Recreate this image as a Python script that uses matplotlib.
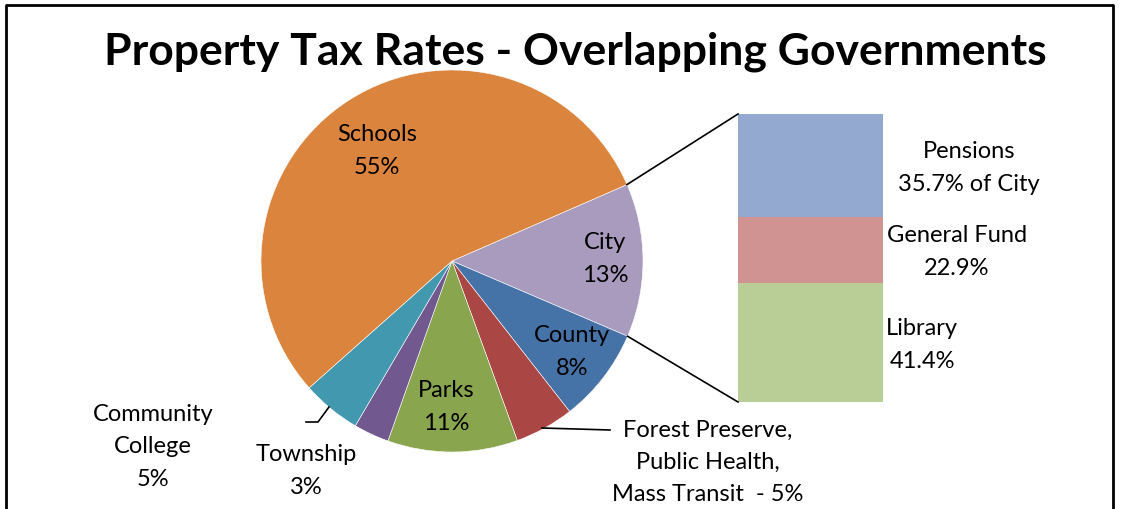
import numpy as np
import matplotlib
matplotlib.use("Agg")
import matplotlib.pyplot as plt

# pie data, clockwise starting at City
pie_labels = ["City", "County", "Forest Preserve,\nPublic Health,\nMass Transit  - 5%",
              "Parks", "Township", "Community\nCollege", "Schools"]
pie_values = [13, 8, 5, 11, 3, 5, 55]
pie_colors = ["#A99BBD", "#4572A7", "#AA4643", "#89A54E", "#71588F", "#4198AF", "#DB843D"]

# bar of pie (breakdown of City), bottom to top
bar_labels = ["Library\n41.4%", "General Fund\n22.9%", "Pensions\n35.7% of City"]
bar_values = [41.4, 22.9, 35.7]
bar_colors = ["#B9CD96", "#D09392", "#93A9CF"]

plt.rcParams['font.family'] = ['Lato', 'DejaVu Sans']

W, H = 1124, 510
fig = plt.figure(figsize=(W / 100, H / 100), dpi=100)
ax = fig.add_axes([0, 0, 1, 1])

# chart frame (bottom edge cut off)
ax.plot([6, 6, 1113, 1113], [-5, 504, 504, -5], color='black', lw=2, clip_on=False)

ax.text(575, 458, "Property Tax Rates - Overlapping Governments", ha='center', va='center',
        fontsize=32, fontweight='bold')

cx, cy, r = 452, 248, 191
start = 23.6
wedges, _ = ax.pie(pie_values, colors=pie_colors, startangle=start, counterclock=False,
                   center=(cx, cy), radius=r, frame=True,
                   wedgeprops=dict(edgecolor='white', linewidth=0.4))
ax.set_xlim(0, W)
ax.set_ylim(0, H)
ax.set_aspect('equal')
ax.axis('off')

fs = 17
ls = 1.65
# inside labels
ax.text(377, 510 - 151, "Schools\n55%", ha='center', va='center', fontsize=fs, linespacing=ls)
ax.text(605, 510 - 259, "City\n13%", ha='center', va='center', fontsize=fs, linespacing=ls)
ax.text(572, 510 - 352, "County\n8%", ha='center', va='center', fontsize=fs, linespacing=ls)
ax.text(446, 510 - 407, "Parks\n11%", ha='center', va='center', fontsize=fs, linespacing=ls)

# outside labels
ax.text(708, 510 - 462, pie_labels[2], ha='center', va='center', fontsize=fs, linespacing=ls)
ax.plot([542, 610], [510 - 429, 510 - 431], color='black', lw=1.2)
ax.text(306, 510 - 471, "Township\n3%", ha='center', va='center', fontsize=fs, linespacing=ls)
ax.plot([306, 318, 329], [510 - 423, 510 - 423, 510 - 408], color='black', lw=1.2)
ax.text(153, 510 - 447, "Community\nCollege\n5%", ha='center', va='center', fontsize=fs, linespacing=ls)

# bar of pie
bx, bw = 810.5, 145
btop, bbot = 510 - 115, 510 - 403
scale = (btop - bbot) / sum(bar_values)
bottom = bbot
for v, c in zip(bar_values, bar_colors):
    ax.bar(bx, v * scale, width=bw, bottom=bottom, color=c, edgecolor='none')
    bottom += v * scale

# connector lines from City wedge edges to the bar corners
a1 = np.radians(start)
a2 = np.radians(start - 360 * pie_values[0] / sum(pie_values))
ax.plot([cx + r * np.cos(a1), bx - bw / 2], [cy + r * np.sin(a1), btop], color='black', lw=1.2)
ax.plot([cx + r * np.cos(a2), bx - bw / 2], [cy + r * np.sin(a2), bbot], color='black', lw=1.2)

ax.text(922, 510 - 345, bar_labels[0], ha='center', va='center', fontsize=fs, linespacing=ls)
ax.text(957, 510 - 252, bar_labels[1], ha='center', va='center', fontsize=fs, linespacing=ls)
ax.text(969, 510 - 168, bar_labels[2], ha='center', va='center', fontsize=fs, linespacing=ls)

fig.savefig("out.png", dpi=100)
